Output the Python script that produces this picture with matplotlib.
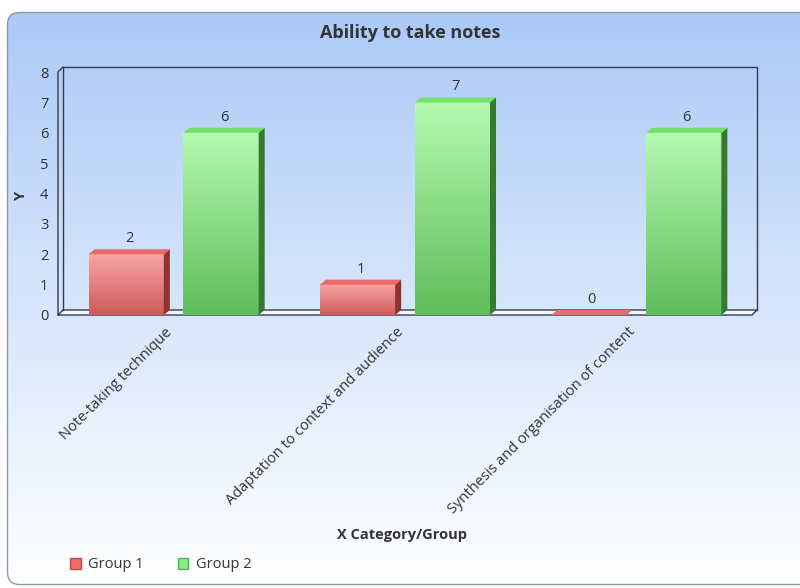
import numpy as np
import matplotlib.pyplot as plt
from matplotlib.patches import FancyBboxPatch, Polygon, Patch
from matplotlib.colors import LinearSegmentedColormap
from matplotlib.transforms import ScaledTranslation

categories = ['Note-taking technique', 'Adaptation to context and audience',
              'Synthesis and organisation of content']
group1 = [2, 1, 0]
group2 = [6, 7, 6]
series_names = ['Group 1', 'Group 2']

plt.rcParams['font.family'] = ['Open Sans', 'DejaVu Sans']
txt = '#333333'

W, H = 800, 588
fig = plt.figure(figsize=(W / 100, H / 100), dpi=100)

# rounded panel with blue -> white gradient
bg = fig.add_axes([0, 0, 1, 1])
bg.set_xlim(0, W)
bg.set_ylim(H, 0)
bg.axis('off')
panel = FancyBboxPatch((7.5, 12.5), 830, 572, boxstyle='round,pad=0,rounding_size=12',
                       fc='none', ec='#8d99aa', lw=1, zorder=2)
bg.add_patch(panel)
grad = np.linspace(0, 1, 256)[:, None]
cmap_bg = LinearSegmentedColormap.from_list('bg', ['#abc9f7', '#d6e5fb', '#ffffff'])
im = bg.imshow(grad, extent=[7.5, 838, 584.5, 12.5], cmap=cmap_bg, aspect='auto', zorder=1)
im.set_clip_path(panel)

# plot area (front plane)
ax = fig.add_axes([58 / W, 1 - 315 / H, 694 / W, 243 / H])
ax.patch.set_alpha(0)
for s in ax.spines.values():
    s.set_visible(False)
ux = 694 / 3   # px per category
uy = 243 / 8   # px per unit
dx, dy = 5 / ux, 5 / uy   # frame depth
bx, by = 6 / ux, 5 / uy   # bar depth

x0, x1 = -0.5, 2.5
lc = '#343b4a'
# floor
ax.add_patch(Polygon([(x0, 0), (x1, 0), (x1 + dx, dy), (x0 + dx, dy)], closed=True,
                     fc='#f3f7fd', ec=lc, lw=1, zorder=1, clip_on=False))
# back wall
ax.plot([x0 + dx, x0 + dx, x1 + dx, x1 + dx], [dy, 8 + dy, 8 + dy, dy], color=lc, lw=1,
        zorder=1, clip_on=False)
ax.plot([x0, x0, x0 + dx], [0, 8, 8 + dy], color=lc, lw=1, zorder=1, clip_on=False)

offsets = [-0.205, 0.205]
width = 0.325
face_cols = [('#f7a5a5', '#cf5a5a'), ('#b4fab0', '#5fbd5a')]
top_cols = ['#e86a6a', '#72e06a']
side_cols = ['#8f3232', '#367a30']

for g, vals in enumerate([group1, group2]):
    cm = LinearSegmentedColormap.from_list('f%d' % g, face_cols[g])
    for i, v in enumerate(vals):
        c = i + offsets[g]
        l, r = c - width / 2, c + width / 2
        if v > 0:
            ax.imshow(grad, extent=[l, r, 0, v], cmap=cm, aspect='auto', zorder=3)
            ax.add_patch(Polygon([(r, 0), (r + bx, by), (r + bx, v + by), (r, v)], closed=True,
                                 fc=side_cols[g], ec='none', zorder=3))
        ax.add_patch(Polygon([(l, v), (r, v), (r + bx, v + by), (l + bx, v + by)], closed=True,
                             fc=top_cols[g], ec='none', zorder=3))
        ax.text(c + bx / 2, v + by + 0.1, str(v), ha='center', va='bottom', fontsize=10.5,
                color=txt, zorder=4)

ax.set_xlim(x0, x1)
ax.set_ylim(0, 8)
ax.set_yticks(range(9))
ax.set_xticks(range(len(categories)))
ax.set_xticklabels(categories, rotation=45, ha='right', rotation_mode='anchor')
ax.tick_params(axis='x', length=0, pad=7, labelsize=10.5, colors=txt)
ax.tick_params(axis='y', length=0, pad=7, labelsize=10.5, colors=txt)
shift = ScaledTranslation(-9 / 100, 0, fig.dpi_scale_trans)
for lab in ax.get_xticklabels():
    lab.set_transform(lab.get_transform() + shift)
ax.set_ylabel('Y', fontsize=10.5, fontweight='bold', color=txt)
ax.yaxis.set_label_coords(-(58 - 28) / 694, (315 - 195) / 243)

fig.text(410 / W, 1 - 33 / H, 'Ability to take notes', ha='center', va='center',
         fontsize=13, fontweight='bold', color=txt)
fig.text(402 / W, 1 - 535 / H, 'X Category/Group', ha='center', va='center',
         fontsize=10.5, fontweight='bold', color=txt)

handles = [Patch(fc='#f06a6a', ec='#c04848'), Patch(fc='#86f086', ec='#50b050')]
fig.legend(handles, series_names, loc='center left', bbox_to_anchor=(57 / W, 1 - 565 / H),
           ncol=2, frameon=False, fontsize=10.5, handlelength=0.75, handleheight=0.75,
           handletextpad=0.5, columnspacing=2.3, labelcolor=txt)

fig.savefig('out.png', dpi=100)
